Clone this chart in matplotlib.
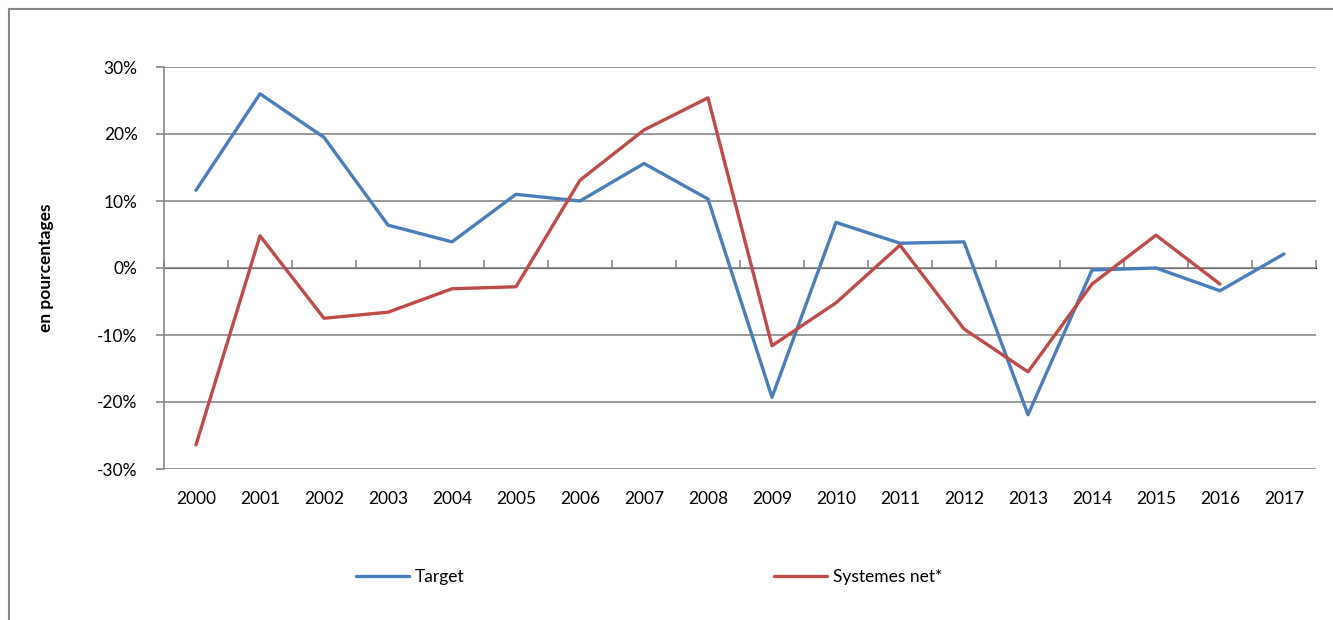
import matplotlib.pyplot as plt
import matplotlib.patches as mpatches
from matplotlib.ticker import FuncFormatter
import numpy as np

annees = ['2000', '2001', '2002', '2003', '2004', '2005', '2006', '2007', '2008',
          '2009', '2010', '2011', '2012', '2013', '2014', '2015', '2016', '2017']
target = [11.6, 26.0, 19.5, 6.4, 3.9, 11.0, 10.0, 15.6, 10.3,
          -19.3, 6.8, 3.7, 3.9, -21.9, -0.3, 0.0, -3.4, 2.1]
systemes = [-26.4, 4.8, -7.5, -6.6, -3.1, -2.8, 13.1, 20.6, 25.4,
            -11.6, -5.2, 3.4, -9.1, -15.5, -2.4, 4.9, -2.4, np.nan]
graduations = [-30, -20, -10, 0, 10, 20, 30]

plt.rcParams['font.family'] = ['Lato', 'DejaVu Sans']
gris = '#878787'
taille = 12.5

fig = plt.figure(figsize=(13.33, 6.2), dpi=100)
W, H = 1333, 620

# cadre du graphique
cadre = mpatches.Rectangle((9 / W, -0.1), 1.2, 1 - 9 / H + 0.1, transform=fig.transFigure,
                           fill=False, edgecolor=gris, linewidth=1.5)
fig.patches.append(cadre)

ax = fig.add_axes([164 / W, 1 - 469 / H, (1316 - 164) / W, (469 - 67) / H])
x = np.arange(len(annees))
ax.plot(x, target, color='#4A7EBB', linewidth=2.4, label='Target', solid_capstyle='round')
ax.plot(x, systemes, color='#BE4B48', linewidth=2.4, label='Systemes net*', solid_capstyle='round')

ax.set_xlim(-0.5, len(annees) - 0.5)
ax.set_ylim(graduations[0], graduations[-1])
ax.set_yticks(graduations)
ax.yaxis.set_major_formatter(FuncFormatter(lambda v, p: f'{v:.0f}%'))
ax.grid(axis='y', color=gris, linewidth=1.2)
ax.set_axisbelow(True)

ax.set_xticks(x)
ax.set_xticklabels(annees)
ax.tick_params(axis='x', length=0, pad=16, labelsize=taille)
ax.tick_params(axis='y', length=6, color=gris, width=1.2, pad=13, labelsize=taille)

for s in ['top', 'right', 'bottom']:
    ax.spines[s].set_visible(False)
ax.spines['left'].set_color(gris)
ax.spines['left'].set_linewidth(1.2)

# axe horizontal au niveau de 0 %
axe0 = ax.secondary_xaxis(0.5)
axe0.set_xticks(np.arange(-0.5, len(annees), 1.0))
axe0.set_xticklabels([])
axe0.tick_params(axis='x', length=6, color=gris, width=1.2, direction='out')
axe0.spines['bottom'].set_color(gris)
axe0.spines['bottom'].set_linewidth(1.2)

ax.set_ylabel('en pourcentages', fontsize=taille, fontweight='bold', labelpad=31)

ax.legend(loc='center left', bbox_to_anchor=(356 / W, 1 - 577 / H),
          bbox_transform=fig.transFigure, ncol=2, frameon=False, fontsize=taille,
          handlelength=3.05, handletextpad=0.35, columnspacing=17.8,
          borderpad=0, borderaxespad=0)

fig.savefig('out.png', dpi=100)
